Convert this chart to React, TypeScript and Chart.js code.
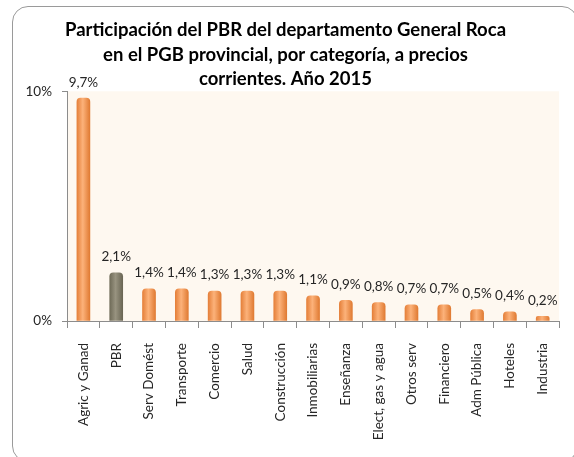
import React, { useEffect, useRef } from "react";
import { Chart, registerables } from "chart.js";

Chart.register(...registerables);

const titleLines = [
  "Participación del PBR del departamento General Roca",
  "en el PGB provincial, por categoría, a precios",
  "corrientes. Año 2015",
];

const categories = [
  "Agric y Ganad",
  "PBR",
  "Serv Domést",
  "Transporte",
  "Comercio",
  "Salud",
  "Construcción",
  "Inmobiliarias",
  "Enseñanza",
  "Elect, gas y agua",
  "Otros serv",
  "Financiero",
  "Adm Pública",
  "Hoteles",
  "Industria",
];

const values = [9.7, 2.1, 1.4, 1.4, 1.3, 1.3, 1.3, 1.1, 0.9, 0.8, 0.7, 0.7, 0.5, 0.4, 0.2];

const valueLabels = [
  "9,7%", "2,1%", "1,4%", "1,4%", "1,3%", "1,3%", "1,3%", "1,1%",
  "0,9%", "0,8%", "0,7%", "0,7%", "0,5%", "0,4%", "0,2%",
];

const highlightCategory = "PBR";
const yMin = 0;
const yMax = 10;
const yStep = 10;

const FONT = "Lato, 'Open Sans', sans-serif";

const bgPlugin = {
  id: "plotBg",
  beforeDraw(chart: any) {
    const { ctx, chartArea: a } = chart;
    ctx.save();
    ctx.fillStyle = "#FEF8F0";
    ctx.fillRect(a.left, a.top, a.right - a.left, a.bottom - a.top);
    ctx.restore();
  },
};

const labelPlugin = {
  id: "valueLabels",
  afterDatasetsDraw(chart: any) {
    const { ctx } = chart;
    const meta = chart.getDatasetMeta(0);
    ctx.save();
    ctx.font = `13.5px ${FONT}`;
    ctx.fillStyle = "#262626";
    ctx.textAlign = "center";
    ctx.textBaseline = "middle";
    meta.data.forEach((el: any, i: number) => {
      ctx.fillText(valueLabels[i], el.x, el.y - 16);
    });
    ctx.restore();
  },
};

export default function App() {
  const ref = useRef<HTMLCanvasElement>(null);

  useEffect(() => {
    document.body.style.margin = "0";
    document.body.style.overflow = "hidden";
    const canvas = ref.current!;
    const barHalf = 6.5;
    const chart = new Chart(canvas, {
      type: "bar",
      data: {
        labels: categories,
        datasets: [
          {
            data: values,
            backgroundColor: (c: any) => {
              const ch = c.chart;
              const xs = ch.scales?.x;
              const isHi = categories[c.dataIndex] === highlightCategory;
              const flat = isHi ? "#85806B" : "#F79646";
              if (!xs || c.dataIndex === undefined) return flat;
              const x = xs.getPixelForValue(c.dataIndex);
              if (!isFinite(x)) return flat;
              const g = ch.ctx.createLinearGradient(x - barHalf, 0, x + barHalf, 0);
              if (isHi) {
                g.addColorStop(0, "#6F6B58");
                g.addColorStop(0.45, "#989380");
                g.addColorStop(1, "#6A6654");
              } else {
                g.addColorStop(0, "#E5803A");
                g.addColorStop(0.45, "#FCB27A");
                g.addColorStop(1, "#E07B33");
              }
              return g;
            },
            borderWidth: 0,
            borderRadius: { topLeft: 4, topRight: 4, bottomLeft: 0, bottomRight: 0 },
            borderSkipped: "bottom",
            barThickness: 13,
          },
        ],
      },
      options: {
        responsive: false,
        animation: false,
        devicePixelRatio: 1,
        layout: { padding: { left: 0, right: 3, top: 0, bottom: 0 } },
        plugins: {
          legend: { display: false },
          tooltip: { enabled: false },
          title: {
            display: true,
            text: titleLines,
            color: "#000000",
            font: { family: FONT, size: 18.5, weight: "bold", lineHeight: 1.32 },
            padding: { top: 18, bottom: 0 },
          },
        },
        scales: {
          x: {
            grid: {
              display: true,
              drawOnChartArea: false,
              drawTicks: true,
              tickLength: 7,
              color: "#8C8C8C",
            },
            border: { display: true, color: "#8C8C8C" },
            ticks: {
              minRotation: 90,
              maxRotation: 90,
              autoSkip: false,
              padding: 15,
              color: "#262626",
              font: { family: FONT, size: 13.5 },
            },
            afterFit: (s: any) => {
              s.height = 136;
            },
          },
          y: {
            min: yMin,
            max: yMax,
            grid: {
              display: true,
              drawOnChartArea: false,
              drawTicks: true,
              tickLength: 5,
              color: "#8C8C8C",
            },
            border: { display: true, color: "#8C8C8C" },
            ticks: {
              stepSize: yStep,
              padding: 10,
              color: "#262626",
              font: { family: FONT, size: 13.5 },
              callback: (v: any) => `${v}%`,
            },
            afterFit: (s: any) => {
              s.width = 67;
            },
          },
        },
      },
      plugins: [bgPlugin, labelPlugin],
    } as any);
    return () => chart.destroy();
  }, []);

  return (
    <div style={{ position: "fixed", left: 0, top: 0, width: 574, height: 457, background: "#fff" }}>
      <canvas ref={ref} width={574} height={457} style={{ position: "absolute", left: 0, top: 0 }} />
      <div
        style={{
          position: "absolute",
          left: 12,
          top: 6,
          width: 564,
          height: 454,
          border: "1.5px solid #9A9A9A",
          borderRadius: 16,
          pointerEvents: "none",
        }}
      />
    </div>
  );
}
